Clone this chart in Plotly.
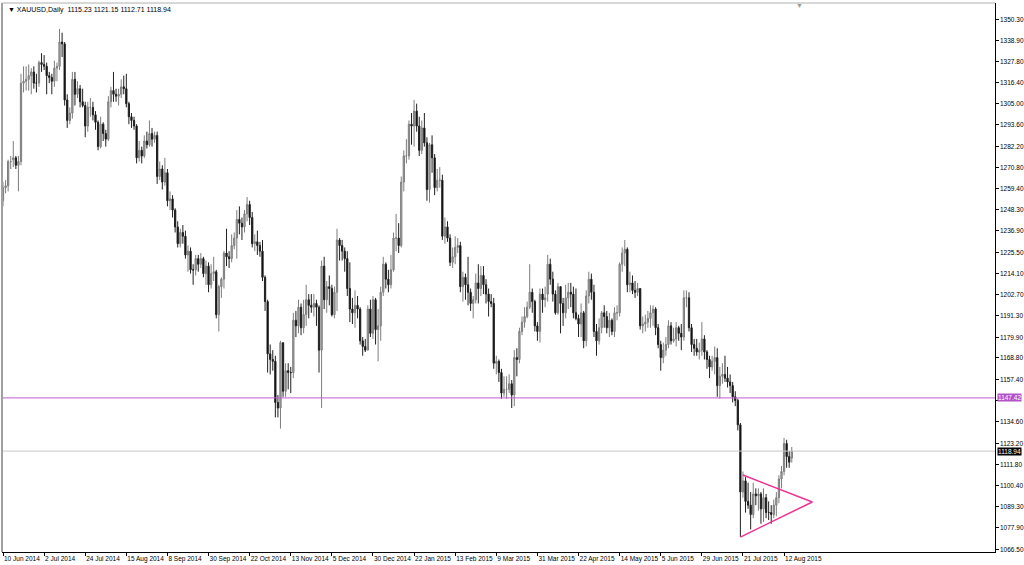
import pandas as pd
import plotly.graph_objects as go

# XAUUSD daily bars, 10 Jun 2014 .. 17 Aug 2015 (one row = 16 bars, as on the time scale)
open_ = [
    1253, 1260, 1261, 1274, 1275, 1276, 1272, 1274, 1316, 1317, 1318, 1320, 1322, 1316, 1316, 1327,
    1326, 1325, 1320, 1319, 1317, 1324, 1325, 1338, 1337, 1307, 1296, 1300, 1318, 1310, 1313, 1306,
    1304, 1293, 1303, 1303, 1299, 1295, 1282, 1294, 1289, 1286, 1306, 1312, 1310, 1309, 1310, 1314,
    1313, 1305, 1298, 1296, 1293, 1276, 1280, 1277, 1285, 1283, 1289, 1286, 1288, 1266, 1270, 1263,
    1268, 1253, 1254, 1248, 1239, 1230, 1236, 1234, 1224, 1226, 1216, 1216, 1222, 1219, 1222, 1214,
    1218, 1208, 1214, 1215, 1192, 1207, 1211, 1225, 1223, 1222, 1229, 1233, 1243, 1241, 1239, 1246,
    1251, 1244, 1230, 1231, 1229, 1226, 1212, 1199, 1171, 1168, 1167, 1145, 1142, 1177, 1151, 1162,
    1161, 1161, 1189, 1186, 1196, 1185, 1192, 1200, 1197, 1196, 1198, 1196, 1173, 1218, 1200, 1207,
    1206, 1192, 1204, 1232, 1229, 1226, 1222, 1206, 1195, 1193, 1197, 1195, 1178, 1175, 1173, 1195,
    1182, 1200, 1184, 1186, 1204, 1219, 1211, 1208, 1216, 1233, 1233, 1229, 1263, 1277, 1277, 1294,
    1293, 1301, 1293, 1280, 1292, 1284, 1259, 1283, 1276, 1260, 1264, 1264, 1234, 1239, 1233, 1220,
    1223, 1228, 1229, 1207, 1212, 1208, 1204, 1198, 1200, 1209, 1206, 1213, 1208, 1203, 1199, 1198,
    1166, 1167, 1161, 1150, 1152, 1152, 1155, 1149, 1169, 1168, 1183, 1188, 1191, 1196, 1204, 1199,
    1186, 1183, 1203, 1200, 1203, 1219, 1211, 1203, 1193, 1207, 1198, 1193, 1201, 1204, 1203, 1193,
    1190, 1187, 1193, 1178, 1202, 1211, 1204, 1183, 1178, 1185, 1193, 1191, 1185, 1189, 1183, 1193,
    1193, 1219, 1225, 1227, 1208, 1209, 1205, 1204, 1206, 1186, 1187, 1188, 1190, 1193, 1195, 1185,
    1176, 1169, 1173, 1176, 1186, 1178, 1179, 1185, 1182, 1180, 1201, 1201, 1185, 1176, 1174, 1172,
    1173, 1179, 1172, 1168, 1164, 1167, 1169, 1154, 1159, 1160, 1158, 1156, 1154, 1148, 1146, 1133,
    1097, 1103, 1092, 1090, 1085, 1096, 1095, 1096, 1088, 1094, 1086, 1086, 1085, 1090, 1094, 1104,
    1108, 1123, 1116, 1115.23,
]
high = [
    1263, 1264, 1275, 1277, 1285, 1277, 1277, 1321, 1325, 1325, 1326, 1324, 1325, 1321, 1328, 1332,
    1331, 1327, 1322, 1321, 1328, 1327, 1345, 1343, 1338, 1310, 1303, 1322, 1322, 1317, 1315, 1313,
    1306, 1306, 1308, 1306, 1301, 1296, 1298, 1295, 1291, 1309, 1314, 1322, 1313, 1313, 1318, 1320,
    1321, 1306, 1300, 1298, 1294, 1285, 1282, 1288, 1290, 1296, 1292, 1290, 1290, 1274, 1272, 1276,
    1270, 1258, 1256, 1249, 1242, 1238, 1240, 1237, 1229, 1228, 1219, 1224, 1224, 1225, 1223, 1221,
    1220, 1219, 1223, 1216, 1208, 1212, 1226, 1238, 1226, 1235, 1236, 1248, 1250, 1244, 1248, 1255,
    1253, 1247, 1235, 1237, 1231, 1232, 1213, 1200, 1176, 1173, 1170, 1149, 1178, 1177, 1166, 1166,
    1164, 1193, 1194, 1200, 1198, 1200, 1208, 1203, 1203, 1203, 1200, 1197, 1221, 1223, 1210, 1213,
    1208, 1207, 1238, 1233, 1232, 1228, 1226, 1220, 1201, 1205, 1202, 1196, 1180, 1179, 1197, 1200,
    1202, 1201, 1195, 1207, 1223, 1220, 1216, 1224, 1236, 1246, 1241, 1266, 1280, 1286, 1296, 1300,
    1307, 1305, 1298, 1296, 1300, 1287, 1284, 1288, 1278, 1270, 1271, 1267, 1244, 1242, 1235, 1228,
    1234, 1233, 1231, 1215, 1214, 1223, 1206, 1202, 1214, 1219, 1218, 1218, 1211, 1206, 1203, 1201,
    1170, 1168, 1163, 1159, 1159, 1160, 1157, 1173, 1174, 1185, 1191, 1196, 1199, 1219, 1206, 1200,
    1188, 1206, 1206, 1207, 1224, 1222, 1215, 1205, 1209, 1207, 1201, 1208, 1209, 1209, 1207, 1206,
    1192, 1198, 1194, 1205, 1215, 1214, 1208, 1187, 1190, 1194, 1197, 1194, 1193, 1190, 1196, 1197,
    1220, 1228, 1232, 1228, 1215, 1213, 1210, 1209, 1206, 1191, 1192, 1194, 1197, 1197, 1196, 1187,
    1178, 1177, 1180, 1189, 1188, 1185, 1188, 1186, 1187, 1205, 1205, 1204, 1187, 1179, 1179, 1177,
    1188, 1181, 1173, 1170, 1170, 1175, 1174, 1164, 1166, 1170, 1164, 1160, 1156, 1151, 1147, 1134,
    1108, 1105, 1102, 1097, 1102, 1099, 1099, 1097, 1099, 1096, 1092, 1090, 1093, 1097, 1106, 1111,
    1126, 1125, 1119, 1121.15,
]
low = [
    1250, 1257, 1258, 1270, 1271, 1270, 1258, 1272, 1311, 1312, 1312, 1310, 1313, 1311, 1314, 1322,
    1323, 1310, 1316, 1310, 1314, 1317, 1323, 1330, 1304, 1292, 1294, 1297, 1304, 1308, 1303, 1303,
    1287, 1290, 1298, 1296, 1291, 1280, 1281, 1285, 1282, 1285, 1303, 1306, 1306, 1304, 1308, 1310,
    1303, 1294, 1292, 1291, 1273, 1274, 1273, 1276, 1281, 1282, 1282, 1284, 1262, 1264, 1259, 1261,
    1250, 1248, 1244, 1236, 1228, 1228, 1230, 1222, 1215, 1214, 1208, 1213, 1215, 1217, 1212, 1208,
    1204, 1206, 1210, 1190, 1183, 1201, 1206, 1218, 1217, 1220, 1227, 1222, 1235, 1232, 1236, 1242,
    1240, 1228, 1226, 1224, 1223, 1210, 1194, 1161, 1160, 1162, 1137, 1137, 1131, 1148, 1148, 1152,
    1150, 1158, 1180, 1182, 1181, 1182, 1186, 1190, 1193, 1191, 1186, 1161, 1142, 1195, 1193, 1197,
    1191, 1190, 1194, 1221, 1221, 1215, 1202, 1188, 1187, 1185, 1190, 1176, 1170, 1172, 1173, 1180,
    1179, 1176, 1167, 1178, 1202, 1206, 1204, 1206, 1215, 1226, 1225, 1228, 1258, 1273, 1275, 1283,
    1282, 1290, 1277, 1278, 1282, 1253, 1252, 1268, 1256, 1258, 1260, 1232, 1230, 1231, 1218, 1217,
    1219, 1225, 1204, 1199, 1200, 1197, 1194, 1190, 1198, 1198, 1202, 1203, 1198, 1191, 1196, 1163,
    1160, 1156, 1147, 1148, 1147, 1150, 1142, 1143, 1159, 1166, 1181, 1185, 1190, 1195, 1193, 1183,
    1178, 1177, 1193, 1196, 1199, 1208, 1199, 1192, 1192, 1182, 1186, 1190, 1195, 1196, 1190, 1189,
    1180, 1180, 1174, 1175, 1198, 1200, 1180, 1170, 1176, 1182, 1185, 1182, 1180, 1181, 1180, 1189,
    1191, 1215, 1218, 1204, 1204, 1203, 1201, 1202, 1184, 1182, 1183, 1185, 1185, 1186, 1181, 1174,
    1162, 1166, 1170, 1174, 1176, 1177, 1175, 1178, 1173, 1178, 1196, 1183, 1172, 1170, 1170, 1168,
    1170, 1168, 1163, 1158, 1162, 1160, 1148, 1147, 1155, 1156, 1153, 1150, 1145, 1143, 1130, 1073,
    1094, 1086, 1088, 1077, 1083, 1090, 1087, 1080, 1081, 1083, 1082, 1080, 1083, 1084, 1091, 1099,
    1106, 1110, 1110, 1112.71,
]
close = [
    1260, 1261, 1274, 1274, 1276, 1272, 1274, 1316, 1317, 1318, 1320, 1322, 1316, 1316, 1327, 1326,
    1325, 1320, 1319, 1317, 1324, 1325, 1338, 1337, 1307, 1296, 1300, 1318, 1310, 1313, 1306, 1304,
    1293, 1303, 1303, 1299, 1295, 1282, 1294, 1289, 1286, 1306, 1312, 1310, 1309, 1310, 1314, 1313,
    1305, 1298, 1296, 1293, 1276, 1280, 1277, 1285, 1283, 1289, 1286, 1288, 1266, 1270, 1263, 1268,
    1253, 1254, 1248, 1239, 1230, 1236, 1234, 1224, 1226, 1216, 1216, 1222, 1219, 1222, 1214, 1218,
    1208, 1214, 1215, 1192, 1207, 1211, 1225, 1223, 1222, 1229, 1233, 1243, 1241, 1239, 1246, 1251,
    1244, 1230, 1231, 1229, 1226, 1212, 1199, 1171, 1168, 1167, 1145, 1142, 1177, 1151, 1162, 1161,
    1161, 1189, 1186, 1196, 1185, 1192, 1200, 1197, 1196, 1198, 1196, 1173, 1218, 1200, 1207, 1206,
    1192, 1204, 1232, 1229, 1226, 1222, 1206, 1195, 1193, 1197, 1195, 1178, 1175, 1173, 1195, 1182,
    1200, 1184, 1186, 1204, 1219, 1211, 1208, 1216, 1233, 1233, 1229, 1263, 1277, 1277, 1294, 1293,
    1301, 1293, 1280, 1292, 1284, 1259, 1283, 1276, 1260, 1264, 1264, 1234, 1239, 1233, 1220, 1223,
    1228, 1229, 1207, 1212, 1208, 1204, 1198, 1200, 1209, 1206, 1213, 1208, 1203, 1199, 1198, 1166,
    1167, 1161, 1150, 1152, 1152, 1155, 1149, 1169, 1168, 1183, 1188, 1191, 1196, 1204, 1199, 1186,
    1183, 1203, 1200, 1201, 1219, 1211, 1203, 1193, 1207, 1198, 1193, 1201, 1204, 1203, 1193, 1190,
    1187, 1193, 1178, 1202, 1211, 1204, 1183, 1178, 1185, 1193, 1191, 1185, 1189, 1183, 1193, 1193,
    1219, 1225, 1227, 1208, 1209, 1205, 1204, 1206, 1186, 1187, 1188, 1190, 1193, 1195, 1185, 1176,
    1169, 1173, 1176, 1186, 1178, 1179, 1185, 1182, 1180, 1201, 1201, 1185, 1176, 1174, 1172, 1173,
    1179, 1172, 1168, 1164, 1167, 1169, 1154, 1159, 1160, 1158, 1156, 1154, 1148, 1146, 1133, 1097,
    1103, 1092, 1090, 1085, 1096, 1095, 1096, 1088, 1094, 1086, 1086, 1085, 1090, 1094, 1104, 1108,
    1123, 1116, 1113, 1118.94,
]

price_ticks = [1350.30, 1338.90, 1327.80, 1316.40, 1305.00, 1293.60, 1282.20, 1270.80,
               1259.40, 1248.30, 1236.90, 1225.50, 1214.10, 1202.70, 1191.30, 1179.90,
               1168.80, 1157.40, 1146.00, 1134.60, 1123.20, 1111.80, 1100.40, 1089.30,
               1077.90, 1066.50]

support_level = 1147.42
bid_level = 1118.94
title_text = "\u25bc XAUUSD,Daily  1115.23 1121.15 1112.71 1118.94"

# triangle drawn on the chart: (date, price) of its three corners
tri_dates = ["2015-07-21", "2015-08-27", "2015-07-20"]
tri_prices = [1106.1, 1091.7, 1072.9]

# trading calendar (weekdays, no Christmas / New Year)
cal = pd.bdate_range("2014-06-10", "2015-10-30")
cal = cal[~cal.isin(pd.to_datetime(["2014-12-25", "2015-01-01"]))]
pos = {d.strftime("%Y-%m-%d"): i for i, d in enumerate(cal)}
n = len(close)
xs = list(range(n))

tick_idx = list(range(0, n, 16))
tick_txt = [f"{cal[i].day} {cal[i].strftime('%b %Y')}" for i in tick_idx]

FONT = "Liberation Sans, Arial, sans-serif"
small = dict(family=FONT, size=6.5, color="#000000")

fig = go.Figure()
fig.add_trace(go.Candlestick(
    x=xs, open=open_, high=high, low=low, close=close,
    increasing=dict(line=dict(color="#7d7d7d", width=1), fillcolor="#a9a9a9"),
    decreasing=dict(line=dict(color="#202020", width=1), fillcolor="#000000"),
    whiskerwidth=0,
    showlegend=False,
))

tx = [pos[d] for d in tri_dates]
fig.add_trace(go.Scatter(
    x=tx, y=tri_prices,
    mode="lines", line=dict(color="#ee2f95", width=1.5), showlegend=False,
    hoverinfo="skip",
))

fig.add_shape(type="line", xref="paper", yref="y", x0=0, x1=1,
              y0=support_level, y1=support_level,
              line=dict(color="#c45ad6", width=1))
fig.add_shape(type="line", xref="paper", yref="y", x0=0, x1=1,
              y0=bid_level, y1=bid_level,
              line=dict(color="#c8c8c8", width=1))

# price scale labels (left-aligned just right of the axis, as in the terminal)
for v in price_ticks:
    if abs(v - support_level) < 3:
        continue
    fig.add_annotation(x=1, xref="paper", y=v, yref="y", xanchor="left",
                       text=f"{v:.2f}", showarrow=False, xshift=3, font=small)

fig.add_annotation(x=1, xref="paper", y=support_level, yref="y", xanchor="left",
                   text=f"{support_level:.2f}", showarrow=False, xshift=2,
                   bgcolor="#b352c8", borderpad=0,
                   font=dict(family=FONT, size=6.5, color="#ffffff"))
fig.add_annotation(x=1, xref="paper", y=bid_level, yref="y", xanchor="left",
                   text=f"{bid_level:.2f}", showarrow=False, xshift=2,
                   bgcolor="#000000", borderpad=0,
                   font=dict(family=FONT, size=6.5, color="#ffffff"))
fig.add_annotation(x=0, xref="paper", y=1, yref="paper", xanchor="left", yanchor="top",
                   text=title_text, showarrow=False, xshift=4, yshift=-1,
                   font=dict(family=FONT, size=7, color="#000000"))
fig.add_annotation(x=n + 2, xref="x", y=1, yref="paper", yanchor="top",
                   text="\u25bc", showarrow=False, yshift=3,
                   font=dict(size=7, color="#9a9a9a"))

fig.update_layout(
    width=1024, height=565,
    margin=dict(l=2, r=29, t=3, b=13),
    paper_bgcolor="#ffffff", plot_bgcolor="#ffffff",
    font=small,
    showlegend=False,
    xaxis=dict(
        range=[-0.39, 386.1], rangeslider=dict(visible=False),
        tickmode="array", tickvals=tick_idx, ticktext=tick_txt, tickangle=0,
        ticks="outside", ticklen=3, tickcolor="#000000",
        ticklabelposition="outside right",
        showgrid=False, zeroline=False,
        showline=True, linecolor="#000000", linewidth=1,
    ),
    yaxis=dict(
        side="right", range=[1064.9, 1358.9],
        tickmode="array", tickvals=price_ticks, showticklabels=False,
        ticks="outside", ticklen=3, tickcolor="#000000",
        showgrid=False, zeroline=False,
        showline=True, linecolor="#000000", linewidth=1,
    ),
)

# window frame: grey left edge and top edge of the chart window
fig.add_shape(type="line", xref="paper", yref="paper", x0=0, x1=0, y0=0, y1=1,
              line=dict(color="#a0a0a0", width=2))
fig.add_shape(type="line", xref="paper", yref="paper", x0=0, x1=1, y0=1, y1=1,
              line=dict(color="#b0b0b0", width=1))

fig.write_html("out.html", config={"displayModeBar": False},
               post_script="document.body.style.margin='0px';")
